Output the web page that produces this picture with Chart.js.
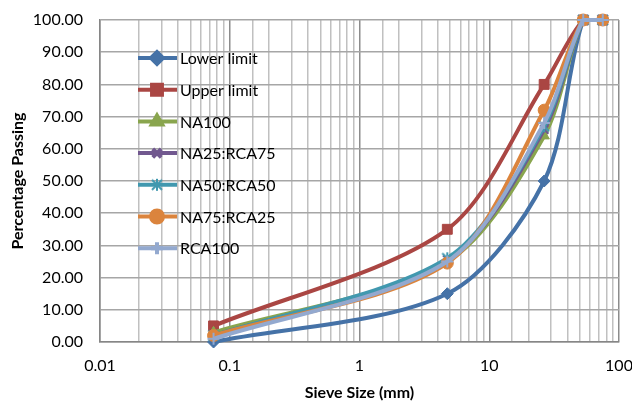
<!DOCTYPE html>
<html>
<head>
<meta charset="utf-8">
<script src="https://cdn.jsdelivr.net/npm/chart.js@4/dist/chart.umd.min.js"></script>
<style>
  html, body { margin: 0; padding: 0; background: #fff; }
  #wrap { width: 632px; height: 402px; }
</style>
</head>
<body>
<div id="wrap"><canvas id="gradingChart" width="632" height="402"></canvas></div>
<script>
// Sieve sizes (mm) and percentage passing for each mix
const sieveSizes = [0.075, 4.75, 26.5, 53, 75];
const lowerLimit = [0, 15, 50, 100, 100];
const upperLimit = [5, 35, 80, 100, 100];
const na100 = [3, 25, 64, 100, 100];
const na25rca75 = [2, 25.5, 66, 100, 100];
const na50rca50 = [2, 26, 67, 100, 100];
const na75rca25 = [2, 24.5, 72, 100, 100];
const rca100 = [1, 25, 68, 100, 100];

const seriesNames = ["Lower limit", "Upper limit", "NA100", "NA25:RCA75", "NA50:RCA50", "NA75:RCA25", "RCA100"];
const seriesValues = [lowerLimit, upperLimit, na100, na25rca75, na50rca50, na75rca25, rca100];
const seriesColors = ["#4572A7", "#AA4643", "#89A54E", "#71588F", "#4198AF", "#DB843D", "#93A9CF"];

const fontFamily = "Lato, 'Open Sans', sans-serif";

// asterisk marker as a small canvas image
function starMarker(color) {
  const c = document.createElement("canvas");
  c.width = 14;
  c.height = 14;
  const g = c.getContext("2d");
  g.strokeStyle = color;
  g.lineWidth = 2;
  g.beginPath();
  g.moveTo(7, 1); g.lineTo(7, 13);
  g.moveTo(2, 2); g.lineTo(12, 12);
  g.moveTo(12, 2); g.lineTo(2, 12);
  g.stroke();
  return c;
}

const seriesMarkers = ["rectRot", "rect", "triangle", "crossRot", starMarker("#4198AF"), "circle", "cross"];

function toPoints(values) {
  return values.map((v, i) => ({ x: sieveSizes[i], y: v }));
}

function markerRadius(i) {
  return seriesMarkers[i] === "rect" ? 7 : 6;
}

function markerBorder(i) {
  const m = seriesMarkers[i];
  return (m === "crossRot" || m === "cross") ? 2 : 1;
}

const datasets = seriesNames.map((name, i) => ({
  label: name,
  data: toPoints(seriesValues[i]),
  borderColor: seriesColors[i],
  backgroundColor: seriesColors[i],
  borderWidth: 4,
  pointStyle: seriesMarkers[i],
  pointRadius: markerRadius(i),
  pointBorderWidth: markerBorder(i),
  pointBorderColor: seriesColors[i],
  tension: 0.3,
  clip: false,
  order: seriesNames.length - i,
}));

// Legend drawn inside the plot area, top-left
const insideLegend = {
  id: "insideLegend",
  afterDatasetsDraw(chart) {
    const ctx = chart.ctx;
    ctx.save();
    ctx.font = "16px " + fontFamily;
    ctx.textBaseline = "middle";
    seriesNames.forEach((name, i) => {
      const y = 58 + i * 31.7;
      ctx.strokeStyle = seriesColors[i];
      ctx.lineWidth = 4;
      ctx.beginPath();
      ctx.moveTo(138, y);
      ctx.lineTo(177, y);
      ctx.stroke();
      ctx.fillStyle = seriesColors[i];
      Chart.helpers.drawPoint(ctx, {
        pointStyle: seriesMarkers[i],
        radius: markerRadius(i),
        borderWidth: markerBorder(i),
        rotation: 0,
      }, 157, y);
      ctx.fillStyle = "#000";
      ctx.fillText(name, 180, y + 1);
    });
    ctx.restore();
  }
};

// keep the plot box fixed: no extra room reserved for end labels
function noEdgePadding(axis) {
  axis.paddingLeft = 0;
  axis.paddingRight = 0;
  axis.paddingTop = 0;
  axis.paddingBottom = 0;
}

new Chart(document.getElementById("gradingChart"), {
  type: "line",
  data: { datasets: datasets },
  options: {
    responsive: false,
    animation: false,
    layout: { padding: { top: 20, right: 13, left: 4, bottom: 0 } },
    plugins: {
      legend: { display: false },
      tooltip: { enabled: false },
    },
    scales: {
      x: {
        type: "logarithmic",
        min: 0.01,
        max: 100,
        border: { color: "#868686", width: 1.5 },
        grid: {
          color: (c) => {
            const v = c.tick ? c.tick.value : 0;
            const l = Math.log10(v);
            return Math.abs(l - Math.round(l)) < 1e-6 ? "#8c8c8c" : "#c0c0c0";
          },
          lineWidth: 1.5,
          drawTicks: false,
        },
        ticks: {
          color: "#000",
          font: { family: fontFamily, size: 16 },
          padding: 14,
          autoSkip: false,
          maxRotation: 0,
          callback: function (value) {
            const l = Math.log10(value);
            if (Math.abs(l - Math.round(l)) < 1e-6) {
              return String(Number(value.toPrecision(1)));
            }
            return "";
          },
        },
        title: {
          display: true,
          text: "Sieve Size (mm)",
          color: "#000",
          font: { family: fontFamily, size: 16, weight: "bold" },
          padding: { top: 4, bottom: 0 },
        },
        afterFit: (axis) => {
          axis.height = 60;
          noEdgePadding(axis);
        },
      },
      y: {
        min: 0,
        max: 100,
        border: { color: "#868686", width: 1.5 },
        grid: { color: "#a6a6a6", lineWidth: 1.5, drawTicks: false },
        ticks: {
          stepSize: 10,
          color: "#000",
          font: { family: fontFamily, size: 16 },
          padding: 17,
          callback: (v) => v.toFixed(2),
        },
        title: {
          display: true,
          text: "Percentage Passing",
          color: "#000",
          font: { family: fontFamily, size: 16, weight: "bold" },
          padding: { bottom: 0 },
        },
        afterFit: (axis) => {
          axis.width = 96;
          noEdgePadding(axis);
        },
      },
    },
  },
  plugins: [insideLegend],
});
</script>
</body>
</html>
